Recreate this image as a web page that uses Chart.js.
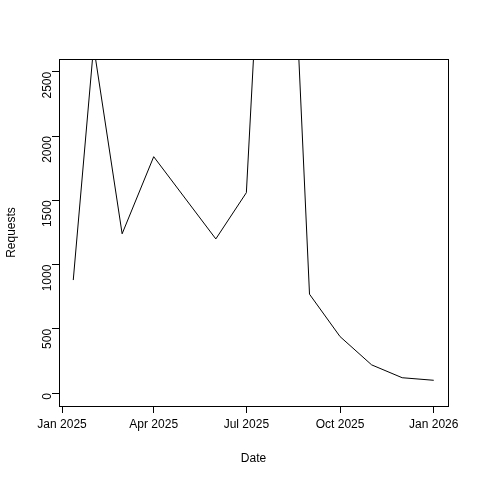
<!DOCTYPE html>
<html>
<head>
<meta charset="utf-8">
<script src="https://cdn.jsdelivr.net/npm/chart.js@4/dist/chart.umd.min.js"></script>
<style>
  html, body { margin: 0; padding: 0; background: #fff; }
  #wrap { width: 480px; height: 480px; }
</style>
</head>
<body>
<div id="wrap"><canvas id="c" width="480" height="480"></canvas></div>
<script>
// days since 2025-01-01
const dayOffsets = [11, 31, 59, 90, 151, 181, 212, 243, 273, 304, 334, 365];
const requests = [880, 2700, 1240, 1840, 1200, 1560, 6200, 770, 440, 220, 120, 100];
const xTickDays = [0, 90, 181, 273, 365];
const xTickLabels = ["Jan 2025", "Apr 2025", "Jul 2025", "Oct 2025", "Jan 2026"];
const yTicks = [0, 500, 1000, 1500, 2000, 2500];

const boxPlugin = {
  id: 'box',
  afterDraw(chart) {
    const a = chart.chartArea, ctx = chart.ctx;
    ctx.save();
    ctx.strokeStyle = '#000';
    ctx.lineWidth = 1;
    ctx.strokeRect(a.left + 0.5, a.top + 0.5, a.right - a.left, a.bottom - a.top);
    ctx.restore();
  }
};

new Chart(document.getElementById('c'), {
  type: 'line',
  data: {
    datasets: [{
      data: dayOffsets.map((d, i) => ({ x: d, y: requests[i] })),
      borderColor: '#000',
      borderWidth: 1,
      pointRadius: 0,
      tension: 0,
      fill: false
    }]
  },
  options: {
    responsive: false,
    animation: false,
    layout: { padding: { top: 59, right: 32, left: 0, bottom: 0 } },
    plugins: { legend: { display: false }, tooltip: { enabled: false } },
    scales: {
      x: {
        type: 'linear',
        min: -3, max: 379,
        afterBuildTicks: s => { s.ticks = xTickDays.map(v => ({ value: v })); },
        afterFit: s => { s.height = 74; },
        ticks: {
          color: '#000', font: { family: 'Liberation Sans', size: 12 }, padding: 4,
          maxRotation: 0, autoSkip: false,
          callback: v => xTickLabels[xTickDays.indexOf(v)]
        },
        grid: { drawOnChartArea: false, drawTicks: true, tickLength: 7, color: '#000' },
        border: { display: false },
        title: { display: true, text: 'Date', color: '#000', font: { family: 'Liberation Sans', size: 12 }, padding: { top: 8, bottom: 14 } }
      },
      y: {
        min: -100, max: 2600,
        afterBuildTicks: s => { s.ticks = yTicks.map(v => ({ value: v })); },
        afterFit: s => { s.width = 59; },
        ticks: {
          color: '#000', font: { family: 'Liberation Sans', size: 12 }, padding: 4,
          minRotation: 90, maxRotation: 90, autoSkip: false,
          callback: v => String(v)
        },
        grid: { drawOnChartArea: false, drawTicks: true, tickLength: 7, color: '#000' },
        border: { display: false },
        title: { display: true, text: 'Requests', color: '#000', font: { family: 'Liberation Sans', size: 12 }, padding: { bottom: 8 } }
      }
    }
  },
  plugins: [boxPlugin]
});
</script>
</body>
</html>
